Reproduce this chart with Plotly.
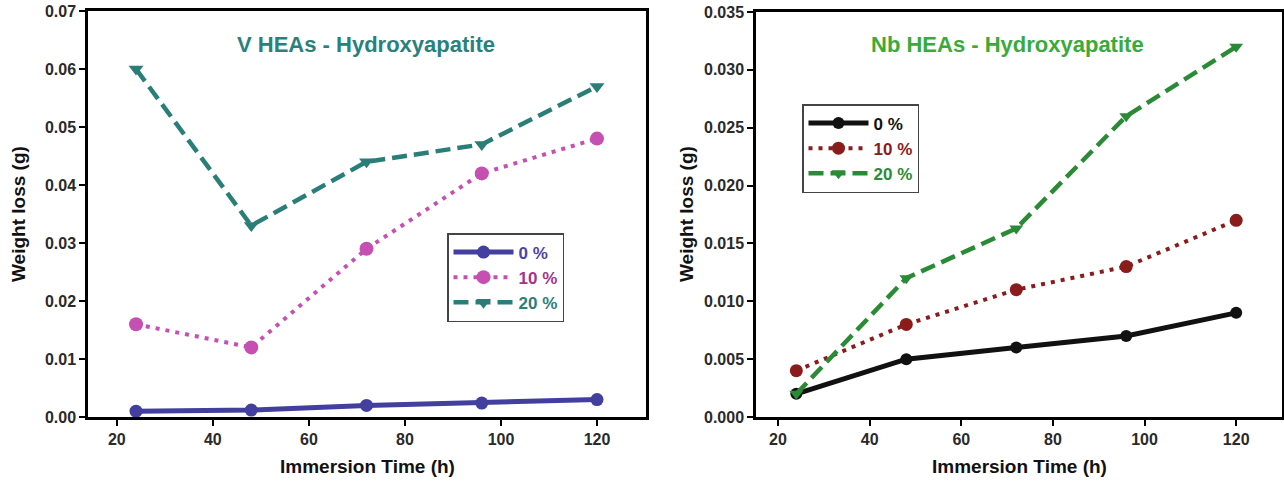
import plotly.graph_objects as go

time_h = [24, 48, 72, 96, 120]

v_0 = [0.001, 0.0012, 0.002, 0.0024, 0.003]
v_10 = [0.016, 0.012, 0.029, 0.042, 0.048]
v_20 = [0.060, 0.033, 0.044, 0.047, 0.057]

nb_0 = [0.002, 0.005, 0.006, 0.007, 0.009]
nb_10 = [0.004, 0.008, 0.011, 0.013, 0.017]
nb_20 = [0.002, 0.012, 0.0163, 0.026, 0.032]

series_names = ["0 %", "10 %", "20 %"]

W, H = 1284, 483
FONT = "Liberation Sans, Arial, sans-serif"

fig = go.Figure()

def px_x(p):
    return p / W

def px_y(p):
    return 1 - p / H

left_cols = ["#423F9E", "#C64FB2", "#2A7E78"]
left_txt = ["#4A44A2", "#A2338F", "#2A8078"]
right_cols = ["#111111", "#8A1C1C", "#2B8A35"]
right_txt = ["#111111", "#8A1C1C", "#2B8A35"]

styles = [
    dict(dash="solid", width=5, symbol="circle", size=13),
    dict(dash="4px,6px", width=4, symbol="circle", size=14),
    dict(dash="15px,7px", width=4.5, symbol="triangle-down", size=13),
]

for vals, col, tcol, nm, st in zip([v_0, v_10, v_20], left_cols, left_txt, series_names, styles):
    fig.add_trace(go.Scatter(
        x=time_h, y=vals, mode="lines+markers",
        name=f"<span style='color:{tcol}'>{nm}</span>",
        line=dict(color=col, width=st["width"], dash=st["dash"]),
        marker=dict(color=col, size=st["size"], symbol=st["symbol"]),
        xaxis="x", yaxis="y", legend="legend",
    ))

for vals, col, tcol, nm, st in zip([nb_0, nb_10, nb_20], right_cols, right_txt, series_names, styles):
    fig.add_trace(go.Scatter(
        x=time_h, y=vals, mode="lines+markers",
        name=f"<span style='color:{tcol}'>{nm}</span>",
        line=dict(color=col, width=st["width"], dash=st["dash"]),
        marker=dict(color=col, size=st["size"] - 1, symbol=st["symbol"]),
        xaxis="x2", yaxis="y2", legend="legend2",
    ))

axis_common = dict(
    showgrid=False, zeroline=False, showline=True, linecolor="black", linewidth=2.5,
    mirror=True, ticks="outside", ticklen=6, tickwidth=1.5, tickcolor="black",
    tickfont=dict(family=FONT, size=16, color="#2a2a2a", weight="bold"),
    automargin=False,
)

legend_common = dict(
    xanchor="left", yanchor="top",
    bordercolor="#444444", borderwidth=1.5, bgcolor="white",
    font=dict(family=FONT, size=17, color="#333", weight="bold"), tracegroupgap=0,
    itemwidth=60,
)

fig.update_layout(
    width=W, height=H,
    margin=dict(l=0, r=0, t=0, b=0, pad=0, autoexpand=False),
    paper_bgcolor="white", plot_bgcolor="white",
    font=dict(family=FONT),
    xaxis=dict(domain=[px_x(88), px_x(646)], range=[14, 130.2], tickvals=[20, 40, 60, 80, 100, 120],
               anchor="y", **axis_common),
    yaxis=dict(domain=[px_y(417), px_y(11)], range=[0, 0.07], tickvals=[0, 0.01, 0.02, 0.03, 0.04, 0.05, 0.06, 0.07],
               tickformat=".2f", anchor="x", **axis_common),
    xaxis2=dict(domain=[px_x(756), px_x(1282)], range=[15.2, 130], tickvals=[20, 40, 60, 80, 100, 120],
                anchor="y2", **axis_common),
    yaxis2=dict(domain=[px_y(417), px_y(12)], range=[0, 0.035],
                tickvals=[0, 0.005, 0.01, 0.015, 0.02, 0.025, 0.03, 0.035],
                tickformat=".3f", anchor="x2", **axis_common),
    legend=dict(x=px_x(447), y=px_y(233), **legend_common),
    legend2=dict(x=px_x(802), y=px_y(104), **legend_common),
    showlegend=True,
)

annos = [
    dict(text="<b>V HEAs - Hydroxyapatite</b>", x=px_x(366), y=px_y(44), color="#2A807C", size=22),
    dict(text="<b>Nb HEAs - Hydroxyapatite</b>", x=px_x(1007), y=px_y(44), color="#3AAA3A", size=22),
    dict(text="<b>Immersion Time (h)</b>", x=px_x(367), y=px_y(466), color="#111111", size=19),
    dict(text="<b>Immersion Time (h)</b>", x=px_x(1019), y=px_y(466), color="#111111", size=19),
]
for a in annos:
    fig.add_annotation(text=a["text"], x=a["x"], y=a["y"], xref="paper", yref="paper",
                       showarrow=False, xanchor="center", yanchor="middle",
                       font=dict(family=FONT, size=a["size"], color=a["color"]))

for xp in [18, 686]:
    fig.add_annotation(text="<b>Weight loss (g)</b>", x=px_x(xp), y=px_y(214), xref="paper", yref="paper",
                       showarrow=False, xanchor="center", yanchor="middle", textangle=-90,
                       font=dict(family=FONT, size=19, color="#111111"))

fig.write_html("out.html")
